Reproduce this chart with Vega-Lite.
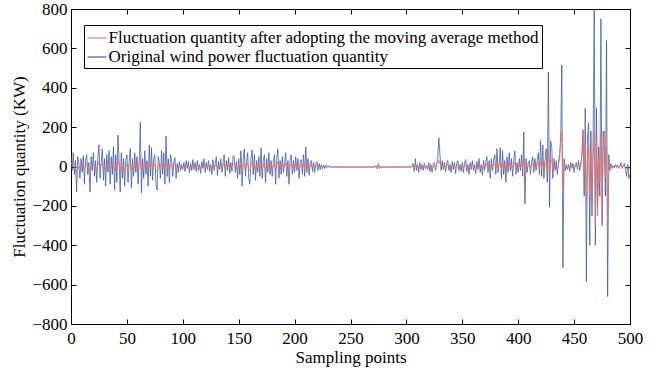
{
"$schema": "https://vega.github.io/schema/vega-lite/v6.json",
"width": 559, "height": 315,
"autosize": {"type": "none"},
"padding": {"left": 71, "top": 9, "right": 35, "bottom": 46},
"background": "white",
"config": {
  "font": "Liberation Serif",
  "view": {"stroke": "black", "strokeWidth": 1},
  "axis": {"domainColor": "black", "tickColor": "black", "labelColor": "black", "titleColor": "black", "labelFont": "Liberation Serif", "titleFont": "Liberation Serif", "labelFontSize": 17, "titleFontSize": 17, "titleFontWeight": "normal", "grid": false, "tickSize": -5, "labelFlush": false}
},
"data": {"values": [
{"i":0,"o":60,"m":20},{"i":1,"o":-20,"m":10},{"i":2,"o":70,"m":15},{"i":3,"o":-40,"m":0},{"i":4,"o":30,"m":-10},{"i":5,"o":-130,"m":-30},{"i":6,"o":50,"m":-15},{"i":7,"o":20,"m":0},{"i":8,"o":-60,"m":-10},{"i":9,"o":40,"m":5},
{"i":10,"o":-30,"m":0},{"i":11,"o":55,"m":10},{"i":12,"o":-90,"m":-15},{"i":13,"o":30,"m":-5},{"i":14,"o":60,"m":15},{"i":15,"o":-40,"m":5},{"i":16,"o":20,"m":-10},{"i":17,"o":-130,"m":-30},{"i":18,"o":50,"m":-10},{"i":19,"o":-20,"m":5},
{"i":20,"o":70,"m":15},{"i":21,"o":-50,"m":5},{"i":22,"o":30,"m":-5},{"i":23,"o":-80,"m":-15},{"i":24,"o":40,"m":5},{"i":25,"o":110,"m":25},{"i":26,"o":-60,"m":10},{"i":27,"o":20,"m":5},{"i":28,"o":90,"m":20},{"i":29,"o":-70,"m":-5},
{"i":30,"o":40,"m":0},{"i":31,"o":-100,"m":-20},{"i":32,"o":60,"m":5},{"i":33,"o":-30,"m":0},{"i":34,"o":80,"m":15},{"i":35,"o":-90,"m":-15},{"i":36,"o":50,"m":5},{"i":37,"o":-40,"m":0},{"i":38,"o":100,"m":20},{"i":39,"o":-120,"m":-20},
{"i":40,"o":60,"m":0},{"i":41,"o":-80,"m":-10},{"i":42,"o":160,"m":35},{"i":43,"o":30,"m":10},{"i":44,"o":-130,"m":-25},{"i":45,"o":70,"m":10},{"i":46,"o":-60,"m":-10},{"i":47,"o":40,"m":5},{"i":48,"o":-100,"m":-20},{"i":49,"o":30,"m":0},
{"i":50,"o":60,"m":10},{"i":51,"o":-80,"m":-15},{"i":52,"o":20,"m":5},{"i":53,"o":90,"m":15},{"i":54,"o":-110,"m":-20},{"i":55,"o":40,"m":5},{"i":56,"o":-50,"m":-10},{"i":57,"o":70,"m":15},{"i":58,"o":-30,"m":0},{"i":59,"o":50,"m":10},
{"i":60,"o":-90,"m":-15},{"i":61,"o":30,"m":10},{"i":62,"o":225,"m":45},{"i":63,"o":-135,"m":-20},{"i":64,"o":40,"m":5},{"i":65,"o":-60,"m":-10},{"i":66,"o":80,"m":15},{"i":67,"o":-40,"m":-5},{"i":68,"o":30,"m":5},{"i":69,"o":-100,"m":-20},
{"i":70,"o":110,"m":20},{"i":71,"o":-50,"m":-5},{"i":72,"o":95,"m":20},{"i":73,"o":-70,"m":-10},{"i":74,"o":40,"m":5},{"i":75,"o":60,"m":10},{"i":76,"o":-90,"m":-20},{"i":77,"o":-120,"m":-25},{"i":78,"o":50,"m":5},{"i":79,"o":20,"m":5},
{"i":80,"o":-60,"m":-10},{"i":81,"o":80,"m":15},{"i":82,"o":-40,"m":-5},{"i":83,"o":70,"m":15},{"i":84,"o":-90,"m":-15},{"i":85,"o":155,"m":30},{"i":86,"o":-50,"m":-5},{"i":87,"o":40,"m":5},{"i":88,"o":-80,"m":-15},{"i":89,"o":60,"m":10},
{"i":90,"o":30,"m":5},{"i":91,"o":-50,"m":-10},{"i":92,"o":20,"m":5},{"i":93,"o":45,"m":10},{"i":94,"o":-60,"m":-10},{"i":95,"o":15,"m":0},{"i":96,"o":-30,"m":-5},{"i":97,"o":25,"m":5},{"i":98,"o":-20,"m":-5},{"i":99,"o":10,"m":0},
{"i":100,"o":-15,"m":-4},{"i":101,"o":20,"m":5},{"i":102,"o":-25,"m":-6},{"i":103,"o":30,"m":8},{"i":104,"o":-10,"m":-2},{"i":105,"o":25,"m":6},{"i":106,"o":-30,"m":-8},{"i":107,"o":15,"m":4},{"i":108,"o":-20,"m":-5},{"i":109,"o":35,"m":9},
{"i":110,"o":-15,"m":-4},{"i":111,"o":20,"m":5},{"i":112,"o":-25,"m":-6},{"i":113,"o":30,"m":8},{"i":114,"o":-20,"m":-5},{"i":115,"o":10,"m":2},{"i":116,"o":-35,"m":-9},{"i":117,"o":25,"m":6},{"i":118,"o":-10,"m":-2},{"i":119,"o":40,"m":10},
{"i":120,"o":-30,"m":-8},{"i":121,"o":20,"m":5},{"i":122,"o":-15,"m":-4},{"i":123,"o":30,"m":8},{"i":124,"o":-25,"m":-6},{"i":125,"o":10,"m":2},{"i":126,"o":-40,"m":-10},{"i":127,"o":35,"m":9},{"i":128,"o":-20,"m":-5},{"i":129,"o":15,"m":4},
{"i":130,"o":50,"m":12},{"i":131,"o":-45,"m":-11},{"i":132,"o":25,"m":6},{"i":133,"o":-15,"m":-4},{"i":134,"o":40,"m":10},{"i":135,"o":-30,"m":-8},{"i":136,"o":20,"m":5},{"i":137,"o":60,"m":15},{"i":138,"o":-50,"m":-12},{"i":139,"o":30,"m":8},
{"i":140,"o":-20,"m":-5},{"i":141,"o":45,"m":11},{"i":142,"o":-35,"m":-9},{"i":143,"o":20,"m":5},{"i":144,"o":-25,"m":-6},{"i":145,"o":55,"m":14},{"i":146,"o":50,"m":12},{"i":147,"o":-30,"m":-8},{"i":148,"o":25,"m":6},{"i":149,"o":-60,"m":-15},
{"i":150,"o":40,"m":10},{"i":151,"o":-40,"m":-10},{"i":152,"o":80,"m":20},{"i":153,"o":-100,"m":-25},{"i":154,"o":30,"m":8},{"i":155,"o":90,"m":22},{"i":156,"o":-50,"m":-12},{"i":157,"o":20,"m":5},{"i":158,"o":70,"m":18},{"i":159,"o":-60,"m":-15},
{"i":160,"o":-90,"m":-22},{"i":161,"o":40,"m":10},{"i":162,"o":85,"m":21},{"i":163,"o":-40,"m":-10},{"i":164,"o":60,"m":15},{"i":165,"o":-70,"m":-18},{"i":166,"o":30,"m":8},{"i":167,"o":-30,"m":-8},{"i":168,"o":50,"m":12},{"i":169,"o":-50,"m":-12},
{"i":170,"o":95,"m":24},{"i":171,"o":-60,"m":-15},{"i":172,"o":30,"m":8},{"i":173,"o":60,"m":15},{"i":174,"o":-80,"m":-20},{"i":175,"o":40,"m":10},{"i":176,"o":-30,"m":-8},{"i":177,"o":70,"m":18},{"i":178,"o":-40,"m":-10},{"i":179,"o":30,"m":8},
{"i":180,"o":-50,"m":-12},{"i":181,"o":20,"m":5},{"i":182,"o":60,"m":15},{"i":183,"o":-90,"m":-22},{"i":184,"o":40,"m":10},{"i":185,"o":90,"m":22},{"i":186,"o":-60,"m":-15},{"i":187,"o":30,"m":8},{"i":188,"o":-40,"m":-10},{"i":189,"o":50,"m":12},
{"i":190,"o":-30,"m":-8},{"i":191,"o":20,"m":5},{"i":192,"o":70,"m":18},{"i":193,"o":-50,"m":-12},{"i":194,"o":30,"m":8},{"i":195,"o":-90,"m":-22},{"i":196,"o":40,"m":10},{"i":197,"o":60,"m":15},{"i":198,"o":-40,"m":-10},{"i":199,"o":30,"m":8},
{"i":200,"o":-30,"m":-8},{"i":201,"o":50,"m":12},{"i":202,"o":-20,"m":-5},{"i":203,"o":40,"m":10},{"i":204,"o":-60,"m":-15},{"i":205,"o":20,"m":5},{"i":206,"o":35,"m":9},{"i":207,"o":-40,"m":-10},{"i":208,"o":60,"m":15},{"i":209,"o":-50,"m":-12},
{"i":210,"o":100,"m":25},{"i":211,"o":-30,"m":-8},{"i":212,"o":40,"m":10},{"i":213,"o":-45,"m":-11},{"i":214,"o":20,"m":5},{"i":215,"o":30,"m":8},{"i":216,"o":-25,"m":-6},{"i":217,"o":20,"m":5},{"i":218,"o":-30,"m":-8},{"i":219,"o":15,"m":4},
{"i":220,"o":25,"m":6},{"i":221,"o":-20,"m":-5},{"i":222,"o":15,"m":4},{"i":223,"o":-15,"m":-4},{"i":224,"o":10,"m":2},{"i":225,"o":-12,"m":-3},{"i":226,"o":8,"m":2},{"i":227,"o":-10,"m":-2},{"i":228,"o":6,"m":1},{"i":229,"o":-5,"m":-1},
{"i":230,"o":3,"m":1},{"i":231,"o":-2,"m":-1},{"i":233,"o":-3,"m":-2},{"i":240,"o":-3,"m":-2},{"i":250,"o":-3,"m":-2},{"i":260,"o":-3,"m":-2},{"i":270,"o":-3,"m":-2},{"i":272,"o":-3,"m":-2},{"i":273,"o":5,"m":0},{"i":274,"o":-12,"m":-4},
{"i":275,"o":15,"m":4},{"i":276,"o":-10,"m":-3},{"i":277,"o":-3,"m":-2},{"i":285,"o":-3,"m":-2},{"i":295,"o":-3,"m":-2},{"i":304,"o":-3,"m":-2},
{"i":305,"o":0,"m":0},{"i":306,"o":15,"m":4},{"i":307,"o":-25,"m":-6},{"i":308,"o":40,"m":10},{"i":309,"o":-20,"m":-5},{"i":310,"o":10,"m":3},{"i":311,"o":-30,"m":-8},{"i":312,"o":20,"m":5},{"i":313,"o":-15,"m":-4},{"i":314,"o":10,"m":3},
{"i":315,"o":-20,"m":-12},{"i":316,"o":15,"m":-8},{"i":317,"o":-10,"m":-5},{"i":318,"o":5,"m":0},{"i":319,"o":-15,"m":-4},{"i":320,"o":20,"m":5},{"i":321,"o":-25,"m":-6},{"i":322,"o":10,"m":3},{"i":323,"o":-30,"m":-15},{"i":324,"o":15,"m":-5},
{"i":325,"o":20,"m":5},{"i":326,"o":-20,"m":-5},{"i":327,"o":10,"m":3},{"i":328,"o":40,"m":10},{"i":329,"o":145,"m":30},{"i":330,"o":60,"m":15},{"i":331,"o":-20,"m":-5},{"i":332,"o":30,"m":8},{"i":333,"o":-15,"m":-4},{"i":334,"o":20,"m":5},
{"i":335,"o":-25,"m":-6},{"i":336,"o":15,"m":4},{"i":337,"o":30,"m":8},{"i":338,"o":-20,"m":-5},{"i":339,"o":10,"m":3},{"i":340,"o":-30,"m":-8},{"i":341,"o":25,"m":6},{"i":342,"o":-15,"m":-4},{"i":343,"o":20,"m":5},{"i":344,"o":-35,"m":-9},
{"i":345,"o":15,"m":4},{"i":346,"o":30,"m":8},{"i":347,"o":-20,"m":-5},{"i":348,"o":10,"m":3},{"i":349,"o":-25,"m":-6},{"i":350,"o":20,"m":5},{"i":351,"o":-30,"m":-8},{"i":352,"o":15,"m":4},{"i":353,"o":35,"m":9},{"i":354,"o":-25,"m":-6},
{"i":355,"o":10,"m":3},{"i":356,"o":-40,"m":-10},{"i":357,"o":20,"m":5},{"i":358,"o":-15,"m":-4},{"i":359,"o":30,"m":8},{"i":360,"o":-20,"m":-5},{"i":361,"o":10,"m":3},{"i":362,"o":-35,"m":-9},{"i":363,"o":25,"m":6},{"i":364,"o":-15,"m":-4},
{"i":365,"o":40,"m":10},{"i":366,"o":-30,"m":-8},{"i":367,"o":10,"m":3},{"i":368,"o":-45,"m":-11},{"i":369,"o":30,"m":8},{"i":370,"o":-20,"m":-5},{"i":371,"o":20,"m":5},{"i":372,"o":50,"m":12},{"i":373,"o":-30,"m":-8},{"i":374,"o":30,"m":8},
{"i":375,"o":-60,"m":-15},{"i":376,"o":40,"m":10},{"i":377,"o":-20,"m":-5},{"i":378,"o":30,"m":8},{"i":379,"o":60,"m":15},{"i":380,"o":-40,"m":-10},{"i":381,"o":90,"m":22},{"i":382,"o":-30,"m":-8},{"i":383,"o":20,"m":5},{"i":384,"o":95,"m":24},
{"i":385,"o":-60,"m":-15},{"i":386,"o":80,"m":20},{"i":387,"o":-40,"m":-10},{"i":388,"o":30,"m":8},{"i":389,"o":-80,"m":-20},{"i":390,"o":50,"m":12},{"i":391,"o":-30,"m":-8},{"i":392,"o":70,"m":18},{"i":393,"o":-20,"m":-5},{"i":394,"o":40,"m":10},
{"i":395,"o":-50,"m":-12},{"i":396,"o":30,"m":8},{"i":397,"o":80,"m":20},{"i":398,"o":-40,"m":-10},{"i":399,"o":20,"m":5},
{"i":400,"o":-30,"m":-8},{"i":401,"o":40,"m":10},{"i":402,"o":-20,"m":-5},{"i":403,"o":60,"m":15},{"i":404,"o":-50,"m":-12},{"i":405,"o":175,"m":40},{"i":406,"o":-190,"m":-45},{"i":407,"o":40,"m":10},{"i":408,"o":-30,"m":-8},{"i":409,"o":20,"m":5},
{"i":410,"o":30,"m":8},{"i":411,"o":-40,"m":-10},{"i":412,"o":20,"m":5},{"i":413,"o":50,"m":12},{"i":414,"o":-30,"m":-8},{"i":415,"o":40,"m":10},{"i":416,"o":-20,"m":-5},{"i":417,"o":30,"m":8},{"i":418,"o":70,"m":18},{"i":419,"o":-40,"m":-10},
{"i":420,"o":130,"m":30},{"i":421,"o":-50,"m":-12},{"i":422,"o":110,"m":28},{"i":423,"o":-60,"m":-15},{"i":424,"o":40,"m":10},{"i":425,"o":90,"m":22},{"i":426,"o":-80,"m":-20},{"i":427,"o":480,"m":90},{"i":428,"o":-205,"m":-60},{"i":429,"o":130,"m":40},
{"i":430,"o":100,"m":30},{"i":431,"o":-60,"m":-15},{"i":432,"o":40,"m":10},{"i":433,"o":-20,"m":-5},{"i":434,"o":30,"m":8},{"i":435,"o":-40,"m":-10},{"i":436,"o":20,"m":5},{"i":437,"o":60,"m":40},{"i":438,"o":150,"m":120},{"i":439,"o":515,"m":175},
{"i":440,"o":-515,"m":-120},{"i":441,"o":40,"m":20},{"i":442,"o":-20,"m":-5},{"i":443,"o":10,"m":3},{"i":444,"o":-15,"m":-4},{"i":445,"o":10,"m":3},{"i":446,"o":-25,"m":-6},{"i":447,"o":20,"m":5},{"i":448,"o":-10,"m":-3},{"i":449,"o":15,"m":4},
{"i":450,"o":-30,"m":-8},{"i":451,"o":10,"m":3},{"i":452,"o":20,"m":5},{"i":453,"o":-15,"m":-4},{"i":454,"o":30,"m":8},{"i":455,"o":-20,"m":-5},{"i":456,"o":10,"m":3},{"i":457,"o":60,"m":60},{"i":458,"o":180,"m":190},{"i":459,"o":-150,"m":-40},
{"i":460,"o":295,"m":120},{"i":461,"o":-585,"m":-200},{"i":462,"o":150,"m":60},{"i":463,"o":220,"m":100},{"i":464,"o":-400,"m":-150},{"i":465,"o":180,"m":80},{"i":466,"o":-250,"m":-120},{"i":467,"o":120,"m":60},{"i":468,"o":820,"m":180},{"i":469,"o":-400,"m":-300},
{"i":470,"o":300,"m":120},{"i":471,"o":-200,"m":-250},{"i":472,"o":100,"m":50},{"i":473,"o":-150,"m":-80},{"i":474,"o":750,"m":170},{"i":475,"o":-300,"m":-200},{"i":476,"o":180,"m":80},{"i":477,"o":100,"m":180},{"i":478,"o":-150,"m":-60},{"i":479,"o":640,"m":100},
{"i":480,"o":-660,"m":-280},{"i":481,"o":60,"m":20},{"i":482,"o":-20,"m":-5},{"i":483,"o":15,"m":4},{"i":484,"o":-10,"m":-3},{"i":485,"o":5,"m":1},{"i":486,"o":-8,"m":-2},{"i":487,"o":10,"m":3},{"i":488,"o":-5,"m":-1},{"i":489,"o":8,"m":2},
{"i":490,"o":-10,"m":-3},{"i":491,"o":5,"m":1},{"i":492,"o":20,"m":5},{"i":493,"o":-10,"m":-3},{"i":494,"o":5,"m":1},{"i":495,"o":15,"m":4},{"i":496,"o":-20,"m":-5},{"i":497,"o":-50,"m":-12},{"i":498,"o":10,"m":3},{"i":499,"o":-60,"m":-15},
{"i":500,"o":-40,"m":-10}
]},
"layer": [
  {"layer": [
    {"mark": {"type": "line", "strokeWidth": 1, "opacity": 0.75, "clip": true},
     "encoding": {
       "x": {"field": "i", "type": "quantitative", "scale": {"domain": [0, 500], "nice": false}, "axis": {"orient": "bottom", "tickCount": 10, "labelPadding": 11, "labelOverlap": false, "title": "Sampling points", "titleY": 38, "titleBaseline": "alphabetic"}},
       "y": {"field": "o", "type": "quantitative", "scale": {"domain": [-800, 800], "nice": false}, "axis": {"orient": "left", "tickCount": 8, "labelPadding": 9, "labelOverlap": false, "labelSeparation": 0, "title": "Fluctuation quantity (KW)", "titleX": -47, "titleBaseline": "alphabetic"}},
       "color": {"datum": "Original wind power fluctuation quantity", "type": "nominal",
         "scale": {"domain": ["Fluctuation quantity after adopting the moving average method", "Original wind power fluctuation quantity"], "range": ["#e8706a", "#3a55a0"]},
         "legend": {"orient": "none", "legendX": 13, "legendY": 16, "title": null, "strokeColor": "black", "fillColor": "white", "padding": 2.5, "symbolType": "stroke", "symbolSize": 361, "symbolStrokeWidth": 1.5, "labelFont": "Liberation Serif", "labelFontSize": 17, "labelColor": "black", "labelLimit": 1000, "labelOffset": 1, "rowPadding": 0, "cornerRadius": 0}}
     }},
    {"mark": {"type": "line", "strokeWidth": 1, "opacity": 0.8, "clip": true, "color": "#e06848"},
     "encoding": {
       "x": {"field": "i", "type": "quantitative"},
       "y": {"field": "m", "type": "quantitative", "title": "Fluctuation quantity (KW)"},
       "color": {"datum": "Fluctuation quantity after adopting the moving average method", "type": "nominal"}
     }}
  ]},
  {"mark": {"type": "line", "opacity": 0, "clip": true},
   "encoding": {
     "x": {"field": "i", "type": "quantitative", "axis": {"orient": "top", "tickCount": 10, "labels": false, "title": null}},
     "y": {"field": "o", "type": "quantitative", "axis": {"orient": "right", "tickCount": 8, "labels": false, "title": null}}
   }}
],
"resolve": {"axis": {"x": "independent", "y": "independent"}}
}
